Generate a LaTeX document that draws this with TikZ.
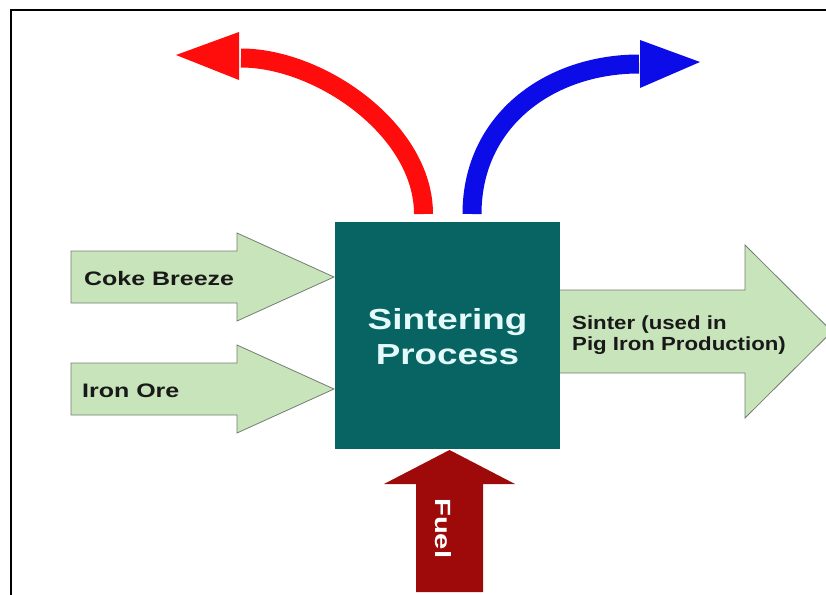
\documentclass[tikz,border=0pt]{standalone}
\usepackage{fontspec}
\newfontfamily\labA{Liberation Sans}[FakeStretch=1.28]
\newfontfamily\labB{Liberation Sans}[FakeStretch=1.27]
\newfontfamily\labC{Liberation Sans}[FakeStretch=1.17]
\newfontfamily\labD{Liberation Sans}[FakeStretch=1.33]
\definecolor{arrgreen}{RGB}{200,228,186}
\definecolor{arrgray}{RGB}{115,125,115}
\definecolor{teal}{RGB}{8,100,98}
\definecolor{boxtext}{RGB}{228,250,250}
\definecolor{outred}{RGB}{255,12,12}
\definecolor{outblue}{RGB}{12,12,232}
\definecolor{fuelred}{RGB}{158,10,10}
\begin{document}
\begin{tikzpicture}[x=1pt,y=-1pt,
  greenarrow/.style={fill=arrgreen, draw=arrgray, line width=0.8pt, line join=miter},
  lbl/.style={font=\labA\bfseries\fontsize{19.5}{23}\selectfont, text=black!90, inner sep=0},
  sinterlbl/.style={font=\labC\bfseries\fontsize{19}{22}\selectfont, text=black!90, inner sep=0},
  boxlbl/.style={font=\labB\bfseries\fontsize{29}{34}\selectfont, text=boxtext, inner sep=0},
  fuellbl/.style={font=\labD\bfseries\fontsize{22}{26}\selectfont, text=white, inner sep=0},
  processbox/.style={fill=teal, draw=none, minimum width=225pt, minimum height=227pt, inner sep=0},
  curveshaft/.style={line width=19pt, line cap=butt}]
\useasboundingbox (0,0) rectangle (826,594);
\clip (0,0) rectangle (826,594);
% frame
\draw[line width=1.7pt] (11,620) -- (11,10) -- (850,10);

% process box
\node[processbox] (proc) at (447.5,335.5) {};
\node[boxlbl, anchor=base] (l1) at (447.5,329) {Sintering};
\node[boxlbl, anchor=base] (l2) at (447.5,364) {Process};

% input arrows
\coordinate (cokeTip) at (334,277);
\coordinate (oreTip) at (334,389);
\draw[greenarrow] (71,251) -- (237,251) -- (237,233) -- (cokeTip) -- (237,321) -- (237,303) -- (71,303) -- cycle;
\draw[greenarrow] (71,363) -- (237,363) -- (237,345) -- (oreTip) -- (237,433) -- (237,415) -- (71,415) -- cycle;
\node[lbl, anchor=base west] (coke) at (84,285) {Coke Breeze};
\node[lbl, anchor=base west] (ore) at (82,397) {Iron Ore};

% output arrow (sinter)
\coordinate (sinterTip) at (832,331.5);
\draw[greenarrow] (560,290) -- (745,290) -- (745,245) -- (sinterTip) -- (745,418) -- (745,373) -- (560,373);
\node[sinterlbl, anchor=base west] (s1) at (572,329) {Sinter (used in};
\node[sinterlbl, anchor=base west] (s2) at (572,350) {Pig Iron Production)};

% fuel arrow
\coordinate (fuelTip) at (449.5,450);
\fill[fuelred] (fuelTip) -- (515,484) -- (483,484) -- (483,592) -- (416,592) -- (416,484) -- (384,484) -- cycle;
\node[fuellbl, rotate=-90, anchor=base west] (fuel) at (435,498) {Fuel};

% curved red arrow
\coordinate (rStart) at (423.5,214);
\coordinate (rEnd) at (241,58);
\draw[outred, curveshaft] (rStart) .. controls (423.5,130) and (320,58) .. (rEnd);
\coordinate (rTip) at (176,55);
\fill[outred] (rTip) -- (239,32) -- (239,80) -- cycle;

% curved blue arrow
\coordinate (bStart) at (472,214);
\coordinate (bEnd) at (639,64);
\draw[outblue, curveshaft] (bStart) .. controls (472,120) and (550,64) .. (bEnd);
\coordinate (bTip) at (700,62);
\fill[outblue] (bTip) -- (640,40) -- (640,88) -- cycle;
\end{tikzpicture}
\end{document}
